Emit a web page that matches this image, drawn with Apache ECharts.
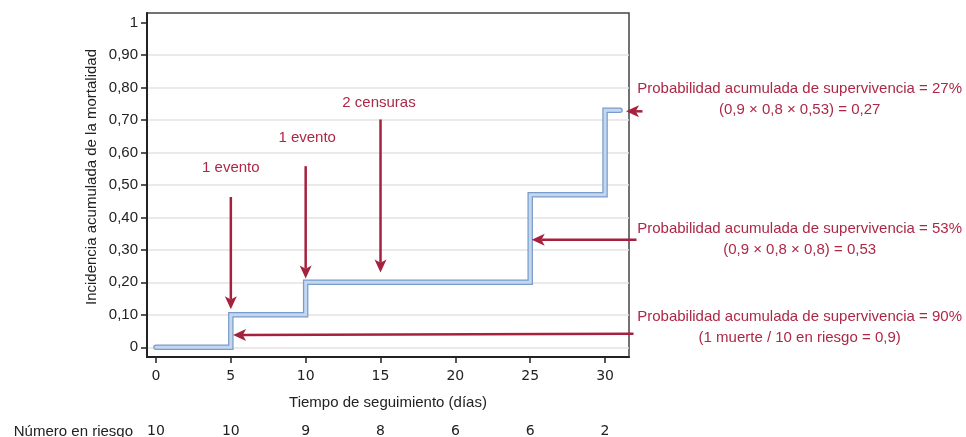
<!DOCTYPE html>
<html>
<head>
<meta charset="utf-8">
<script src="https://cdn.jsdelivr.net/npm/echarts@6/dist/echarts.min.js"></script>
<style>
  html, body { margin: 0; padding: 0; background: #fff; }
  #chart { width: 966px; height: 437px; }
</style>
</head>
<body>
<div id="chart"></div>
<script>
// Curva de incidencia acumulada (escalones)
const stepPoints = [[0, 0], [5, 0.1], [10, 0.2], [25, 0.47], [30, 0.73], [31, 0.73]];
const xTicks = [0, 5, 10, 15, 20, 25, 30];
const yTicks = [0, 0.1, 0.2, 0.3, 0.4, 0.5, 0.6, 0.7, 0.8, 0.9, 1];
const riskCounts = [10, 10, 9, 8, 6, 6, 2];

// flechas: [x cola, y cola, x punta, y punta]
const arrows = [
  [5, 0.463, 5, 0.117],
  [10, 0.558, 10, 0.212],
  [15, 0.702, 15, 0.23],
  [31.9, 0.042, 5.15, 0.038],
  [32.1, 0.331, 25.1, 0.331],
  [32.5, 0.727, 31.4, 0.727],
];
const arrowLabels = [
  [5, 0.552, '1 evento'],
  [10.1, 0.644, '1 evento'],
  [14.9, 0.752, '2 censuras'],
];
const survivalNotes = [
  [43, 0.765, 'Probabilidad acumulada de supervivencia = 27%', '(0,9 × 0,8 × 0,53) = 0,27'],
  [43, 0.334, 'Probabilidad acumulada de supervivencia = 53%', '(0,9 × 0,8 × 0,8) = 0,53'],
  [43, 0.061, 'Probabilidad acumulada de supervivencia = 90%', '(1 muerte / 10 en riesgo = 0,9)'],
];

const RED = '#a5213e';
const RED_TEXT = '#ad2846';
const AXIS = '#222';
const SANS = '"Liberation Sans", Arial, sans-serif';
const VERDANA = '"DejaVu Sans", Verdana, sans-serif';

const chart = echarts.init(document.getElementById('chart'));

function formatY(v) {
  if (v === 0) return '0';
  if (v === 1) return '1';
  return v.toFixed(2).replace('.', ',');
}

function renderArrow(params, api) {
  const a = api.coord([api.value(0), api.value(1)]);
  const b = api.coord([api.value(2), api.value(3)]);
  const dx = b[0] - a[0];
  const dy = b[1] - a[1];
  const len = Math.hypot(dx, dy);
  const ux = dx / len;
  const uy = dy / len;
  const headL = 13;
  const headW = 6;
  const base = [b[0] - ux * headL, b[1] - uy * headL];
  const notch = [b[0] - ux * headL * 0.75, b[1] - uy * headL * 0.75];
  return {
    type: 'group',
    children: [
      {
        type: 'line',
        shape: { x1: a[0], y1: a[1], x2: notch[0], y2: notch[1] },
        style: { stroke: RED, lineWidth: 2.5 },
      },
      {
        type: 'polygon',
        shape: {
          points: [
            b,
            [base[0] - uy * headW, base[1] + ux * headW],
            notch,
            [base[0] + uy * headW, base[1] - ux * headW],
          ],
        },
        style: { fill: RED },
      },
    ],
  };
}

function renderArrowLabel(params, api) {
  const p = api.coord([api.value(0), api.value(1)]);
  return {
    type: 'text',
    x: p[0],
    y: p[1],
    style: {
      text: arrowLabels[params.dataIndex][2],
      fill: RED_TEXT,
      font: '15px ' + SANS,
      align: 'center',
      verticalAlign: 'middle',
    },
  };
}

function renderNote(params, api) {
  const p = api.coord([api.value(0), api.value(1)]);
  const note = survivalNotes[params.dataIndex];
  return {
    type: 'text',
    x: p[0],
    y: p[1],
    style: {
      text: note[2] + '\n' + note[3],
      fill: RED_TEXT,
      font: '15px ' + SANS,
      lineHeight: 21,
      align: 'center',
      verticalAlign: 'middle',
    },
  };
}

const splitColors = yTicks.map((v) => (v === 1 ? 'rgba(0,0,0,0)' : '#e3e3e3'));

const option = {
  animation: false,
  backgroundColor: '#fff',
  grid: {
    left: 147,
    right: 337,
    top: 13,
    bottom: 80,
    outerBoundsMode: 'none',
    containLabel: false,
    show: true,
    borderColor: '#444',
    borderWidth: 1.5,
  },
  graphic: [
    {
      type: 'text',
      right: 833,
      top: 424,
      style: {
        text: 'Número en riesgo',
        font: '15px ' + SANS,
        fill: AXIS,
      },
    },
  ],
  xAxis: [
    {
      type: 'value',
      min: -0.6,
      max: 31.6,
      position: 'bottom',
      axisLine: { onZero: false, lineStyle: { color: AXIS, width: 2 } },
      axisTick: { customValues: xTicks, length: 6, lineStyle: { color: AXIS, width: 1.5 } },
      axisLabel: {
        customValues: xTicks,
        fontSize: 14,
        fontFamily: VERDANA,
        color: AXIS,
        margin: 12,
      },
      splitLine: { show: false },
      name: 'Tiempo de seguimiento (días)',
      nameLocation: 'middle',
      nameGap: 38,
      nameTextStyle: { fontSize: 15, fontFamily: SANS, color: AXIS },
    },
    {
      type: 'value',
      min: -0.6,
      max: 31.6,
      position: 'bottom',
      offset: 74,
      axisLine: { show: false },
      axisTick: { show: false },
      splitLine: { show: false },
      axisLabel: {
        customValues: xTicks,
        formatter: (v) => String(riskCounts[xTicks.indexOf(v)]),
        verticalAlign: 'middle',
        margin: 0,
        fontSize: 14,
        fontFamily: VERDANA,
        color: AXIS,
      },
    },
  ],
  yAxis: {
    type: 'value',
    min: -0.03,
    max: 1.03,
    axisLine: { show: true, onZero: false, lineStyle: { color: AXIS, width: 2 } },
    axisTick: { show: true, customValues: yTicks, length: 6, lineStyle: { color: AXIS, width: 1.5 } },
    axisLabel: {
      customValues: yTicks,
      formatter: formatY,
      fontSize: 15,
      fontFamily: SANS,
      color: AXIS,
      margin: 9,
    },
    splitLine: { show: true, lineStyle: { color: splitColors, width: 1.5 } },
    name: 'Incidencia acumulada de la mortalidad',
    nameLocation: 'middle',
    nameGap: 48,
    nameTextStyle: { fontSize: 15, fontFamily: SANS, color: AXIS, padding: [0, 0, 0, 16] },
  },
  series: [
    {
      type: 'line',
      data: stepPoints,
      step: 'end',
      symbol: 'none',
      silent: true,
      z: 2,
      lineStyle: { color: '#7a9cc8', width: 5.5, cap: 'round', join: 'miter' },
    },
    {
      type: 'line',
      data: stepPoints,
      step: 'end',
      symbol: 'none',
      silent: true,
      z: 3,
      lineStyle: { color: '#c3d8f0', width: 3, cap: 'round', join: 'miter' },
    },
    {
      type: 'custom',
      data: arrows,
      encode: { x: [0, 2], y: [1, 3] },
      renderItem: renderArrow,
      silent: true,
      clip: false,
      z: 5,
    },
    {
      type: 'custom',
      data: arrowLabels.map((d) => [d[0], d[1]]),
      renderItem: renderArrowLabel,
      silent: true,
      clip: false,
      z: 5,
    },
    {
      type: 'custom',
      data: survivalNotes.map((d) => [d[0], d[1]]),
      renderItem: renderNote,
      silent: true,
      clip: false,
      z: 5,
    },
  ],
};

chart.setOption(option);

window.addEventListener('resize', () => {
  chart.resize();
});
</script>
</body>
</html>
